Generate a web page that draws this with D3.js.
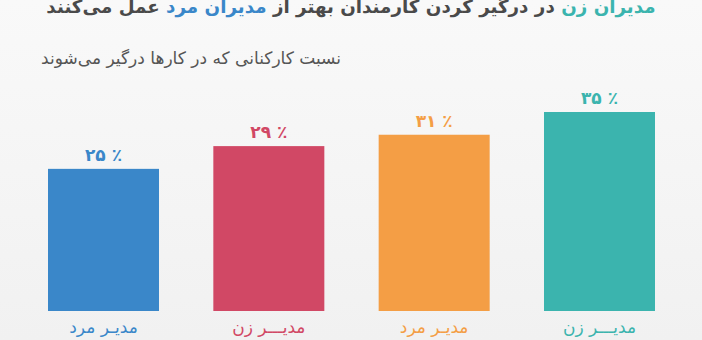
<!DOCTYPE html>
<html>
<head>
<meta charset="utf-8">
<script src="https://cdn.jsdelivr.net/npm/d3@7"></script>
<style>
  html, body { margin: 0; padding: 0; background: #f7f7f7; }
  svg { display: block; font-family: 'DejaVu Sans', sans-serif; }
</style>
</head>
<body>
<div id="chart"></div>
<script>
// data
const categories = ['مدیـر مرد', 'مدیـــر زن', 'مدیـر مرد', 'مدیـــر زن'];
const values = [25, 29, 31, 35];
const valueLabels = ['۲۵ ٪', '۲۹ ٪', '۳۱ ٪', '۳۵ ٪'];
const colors = ['#3a87c9', '#d14865', '#f49e45', '#3bb4ae'];

const titleParts = [
  { text: 'مدیران زن', color: '#3bb4ae' },
  { text: ' در درگیر کردن کارمندان بهتر از ', color: '#4a4a4a' },
  { text: 'مدیران مرد', color: '#3a87c9' },
  { text: ' عمل می‌کنند', color: '#4a4a4a' }
];
const subtitle = 'نسبت کارکنانی که در کارها درگیر می‌شوند';

const width = 702;
const height = 340;
const baseline = 311;

d3.select('#chart').selectAll('*').remove();

const svg = d3
  .select('#chart')
  .append('svg')
  .attr('width', width)
  .attr('height', height);

// soft background
const grad = svg.append('defs').append('linearGradient')
  .attr('id', 'bg').attr('x1', 0).attr('y1', 0).attr('x2', 0).attr('y2', 1);
grad.append('stop').attr('offset', '0%').attr('stop-color', '#f9f9f9');
grad.append('stop').attr('offset', '100%').attr('stop-color', '#f1f1f1');
svg.append('rect').attr('width', width).attr('height', height).attr('fill', 'url(#bg)');

// scales
const x = d3.scaleBand()
  .domain(d3.range(values.length))
  .range([48, 655])
  .paddingInner(0.3286)
  .paddingOuter(0);

const y = d3.scaleLinear()
  .domain([0, 35])
  .range([baseline, 112]);

// title (clipped at the top like the original)
const title = svg.append('text')
  .attr('x', width / 2)
  .attr('y', 13)
  .attr('direction', 'rtl')
  .attr('text-anchor', 'middle')
  .style('font-size', '24px')
  .style('font-weight', 'bold');
title.selectAll('tspan')
  .data(titleParts)
  .join('tspan')
  .attr('fill', (d) => d.color)
  .text((d) => d.text);

// shrink the title so it spans about 610px like the original
const tw = title.node().getComputedTextLength();
if (tw > 0) title.style('font-size', (24 * 610 / tw).toFixed(2) + 'px');

// subtitle
svg.append('text')
  .attr('x', 341)
  .attr('y', 64)
  .attr('direction', 'rtl')
  .attr('text-anchor', 'start')
  .style('font-size', '17px')
  .style('fill', '#555')
  .text(subtitle);

// bars
svg.selectAll('rect.bar')
  .data(values)
  .join('rect')
  .attr('class', 'bar')
  .attr('x', (d, i) => x(i))
  .attr('y', (d) => y(d))
  .attr('width', x.bandwidth())
  .attr('height', (d) => baseline - y(d))
  .attr('fill', (d, i) => colors[i]);

// value labels
svg.selectAll('text.value')
  .data(values)
  .join('text')
  .attr('class', 'value')
  .attr('x', (d, i) => x(i) + x.bandwidth() / 2)
  .attr('y', (d) => y(d) - 8)
  .attr('direction', 'ltr')
  .attr('text-anchor', 'middle')
  .style('font-size', '17px')
  .style('font-weight', 'bold')
  .attr('fill', (d, i) => colors[i])
  .text((d, i) => valueLabels[i]);

// category labels under the bars
svg.selectAll('text.cat')
  .data(categories)
  .join('text')
  .attr('class', 'cat')
  .attr('x', (d, i) => x(i) + x.bandwidth() / 2)
  .attr('y', 333)
  .attr('direction', 'rtl')
  .attr('text-anchor', 'middle')
  .style('font-size', '17px')
  .attr('fill', (d, i) => colors[i])
  .text((d) => d);
</script>
</body>
</html>
